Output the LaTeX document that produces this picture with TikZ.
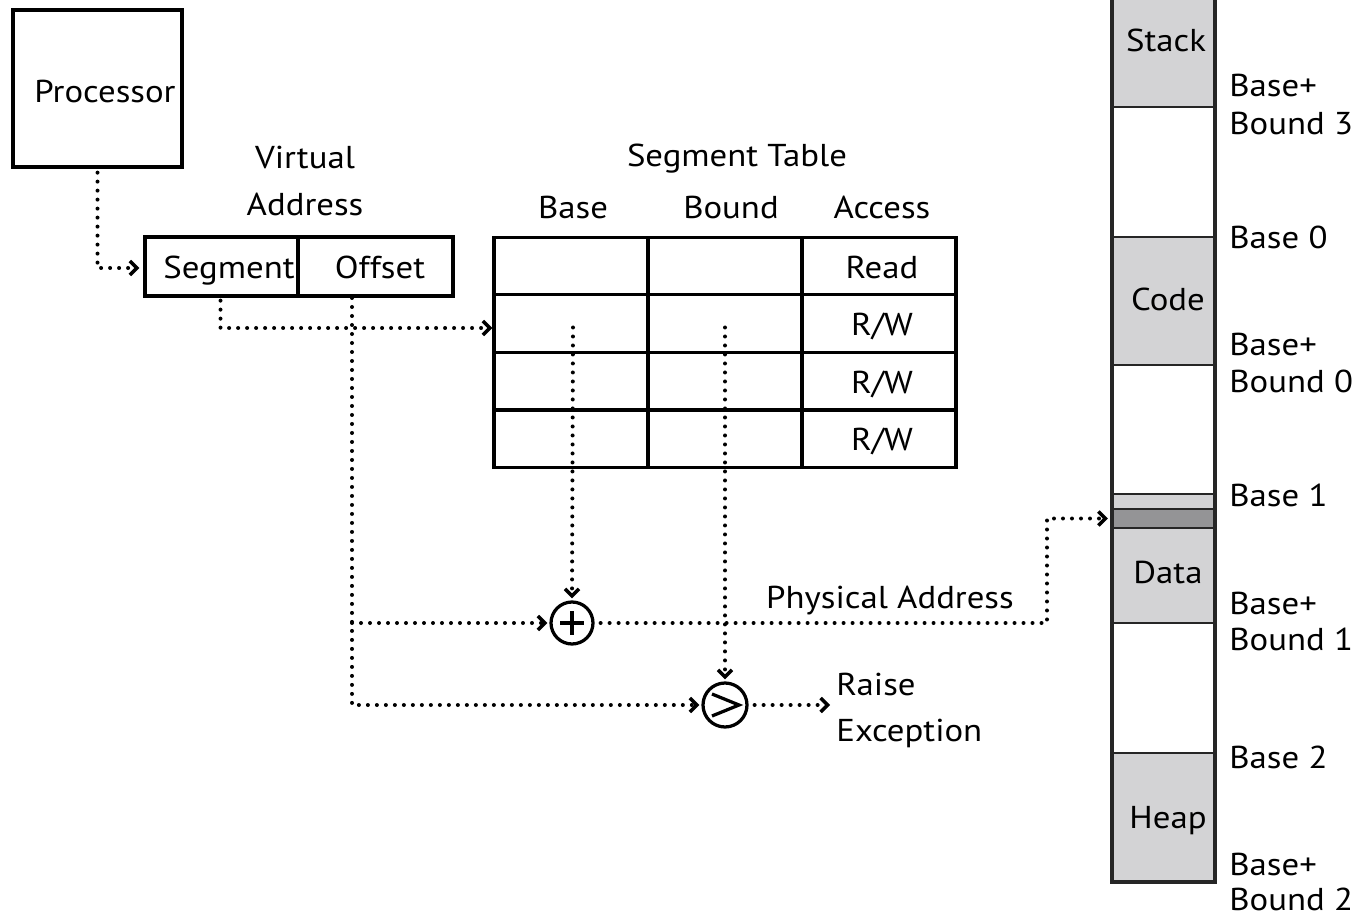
\documentclass[tikz,border=0pt]{standalone}
\usepackage{fontspec}
\setmainfont{PT Sans}[FakeStretch=1.1]
\usetikzlibrary{arrows.meta,calc}
\definecolor{seggray}{RGB}{211,211,213}
\definecolor{darkseg}{RGB}{148,148,150}
\tikzset{
  txt/.style={font=\fontsize{18}{21}\selectfont, inner sep=0pt, anchor=base},
  lefttxt/.style={txt, anchor=base west},
  heavy/.style={draw, line width=0.065cm},
  cell/.style={heavy, minimum width=3.08cm, minimum height=1.155cm, inner sep=0pt},
  vacell/.style={heavy, minimum height=1.18cm, inner sep=0pt},
  flow/.style={line width=0.08cm, line cap=round, dash pattern=on 0pt off 0.18cm,
    -{Straight Barb[length=0.14cm,width=0.28cm,line width=0.07cm]}},
  divider/.style={line width=0.045cm, draw=black!85},
  wall/.style={line width=0.07cm, draw=black!85},
  opcircle/.style={circle, heavy, minimum size=#1, inner sep=0pt},
}
\begin{document}
\begin{tikzpicture}[x=0.02cm,y=-0.02cm]
\useasboundingbox (0,0) rectangle (1372,918);

% ---- physical memory column ----
\fill[seggray] (1112,0) rectangle (1215,107);
\fill[seggray] (1112,237) rectangle (1215,365);
\fill[seggray] (1112,494) rectangle (1215,623);
\fill[seggray] (1112,753) rectangle (1215,882);
\foreach \yy in {107,237,365,494,623,753}
  \draw[divider] (1112,\yy) -- (1215,\yy);
\node[fill=darkseg, draw=black!85, line width=0.045cm, minimum width=2.06cm,
      minimum height=0.38cm, inner sep=0pt] (hit) at (1163.5,518.5) {};
\draw[wall] (1112,0) -- (1112,882) -- (1215,882) -- (1215,0);

\node[txt] (stack) at (1166,52) {Stack};
\node[txt] (code)  at (1168,311) {Code};
\node[txt] (data)  at (1168,583) {Data};
\node[txt] (heap)  at (1168,828) {Heap};

\node[lefttxt] (b3a) at (1229,97)  {Base+};
\node[lefttxt] (b3b) at (1229,135) {Bound 3};
\node[lefttxt] (b0)  at (1229,249) {Base 0};
\node[lefttxt] (b0a) at (1229,356) {Base+};
\node[lefttxt] (b0b) at (1229,393) {Bound 0};
\node[lefttxt] (b1)  at (1229,506) {Base 1};
\node[lefttxt] (b1a) at (1229,614) {Base+};
\node[lefttxt] (b1b) at (1229,650) {Bound 1};
\node[lefttxt] (b2)  at (1229,768) {Base 2};
\node[lefttxt] (b2a) at (1229,875) {Base+};
\node[lefttxt] (b2b) at (1229,910) {Bound 2};

% ---- processor ----
\node[heavy, minimum width=3.38cm, minimum height=3.14cm, inner sep=0pt] (proc) at (97.5,88.5) {};
\node[txt] (proct) at (105,103) {Processor};

% ---- virtual address ----
\node[txt] (vtitle1) at (305,169) {Virtual};
\node[txt] (vtitle2) at (305,216) {Address};
\node[vacell, minimum width=3.06cm] (seg) at (221.5,266.5) {};
\node[vacell, minimum width=3.10cm] (off) at (375.5,266.5) {};
\node[txt] (segt) at (229,279) {Segment};
\node[txt] (offt) at (380,279) {Offset};

% ---- segment table ----
\node[txt] (sttitle) at (737,167) {Segment Table};
\node[txt] (hbase)  at (573,219) {Base};
\node[txt] (hbound) at (731,219) {Bound};
\node[txt] (hacc)   at (882,219) {Access};
\foreach \r/\yc in {1/266,2/323.5,3/381,4/439}{
  \node[cell] (r\r c1) at (571,\yc) {};
  \node[cell] (r\r c2) at (725,\yc) {};
  \node[cell] (r\r c3) at (879,\yc) {};
}
\node[txt] (acc1) at (882,279) {Read};
\node[txt] (acc2) at (882,336) {R/W};
\node[txt] (acc3) at (882,394) {R/W};
\node[txt] (acc4) at (882,451) {R/W};

% ---- adder and comparator ----
\node[opcircle=0.84cm] (plus) at (572,623) {};
\draw[line width=0.065cm] ($(plus.center)+(-12,0)$) -- ($(plus.center)+(12,0)$)
                          ($(plus.center)+(0,-12)$) -- ($(plus.center)+(0,12)$);
\node[opcircle=0.88cm] (gt) at (725,705) {};
\draw[line width=0.065cm, line join=miter]
  ($(gt.center)+(-13,-11)$) -- ($(gt.center)+(14,0)$) -- ($(gt.center)+(-13,11)$);

\node[txt] (phys) at (890,608) {Physical Address};
\node[lefttxt] (exc1) at (836,695) {Raise};
\node[lefttxt] (exc2) at (836,741) {Exception};

% ---- connectors ----
\coordinate (offtap) at (352,298);
\coordinate (bendx) at (1047,518);
\coordinate (raise) at (830,705);
\draw[flow] ($(proc.south)+(0,4)$) |- ($(seg.west)+(-4,1.5)$);
\draw[flow] ($(seg.south)+(-1,3)$) |- ($(r2c1.west)+(0,4.5)$);
\draw[flow] (offtap) |- ($(gt.west)+(-2,0)$);
\draw[flow] (offtap |- plus) -- ($(plus.west)+(-2,0)$);
\draw[flow] ($(r2c1.center)+(2,4)$) -- ($(plus.north)+(0,-2)$);
\draw[flow] ($(r2c2.center)+(0,4)$) -- ($(gt.north)+(0,-2)$);
\draw[flow] ($(plus.east)+(6,0)$) -- (plus.east -| bendx) |- ($(hit.west)+(-3,0)$);
\draw[flow] ($(gt.east)+(6,0)$) -- (raise);
\end{tikzpicture}
\end{document}
